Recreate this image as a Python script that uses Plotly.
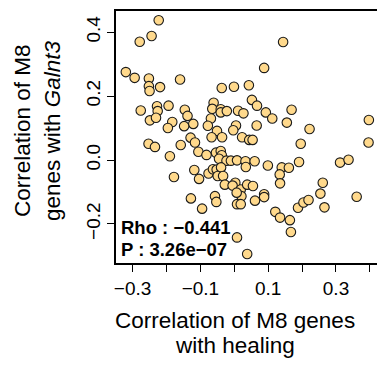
import plotly.graph_objects as go

# Correlation of M8 genes with healing (x) and with Galnt3 (y)
healing_corr = [
    -0.223, -0.279, -0.244, 0.144, -0.320, -0.294, -0.252, -0.252, -0.250, -0.219,
    -0.160, 0.088, -0.037, -0.001, 0.043, -0.276, -0.228, -0.226, -0.194, -0.249,
    -0.231, -0.183, -0.196, -0.146, -0.138, -0.121, -0.148, -0.061, -0.065, -0.040,
    -0.040, -0.022, -0.069, -0.078, 0.011, 0.027, 0.052, 0.067, 0.093, 0.112,
    0.169, 0.155, 0.066, 0.005, -0.003, -0.051, 0.222, 0.397,
    -0.253, -0.234, -0.158, -0.129, -0.116, -0.067, -0.036, 0.023, 0.044, 0.054,
    0.196, 0.396, -0.190, -0.106, -0.082, -0.054, -0.040, -0.037, -0.045, -0.023,
    -0.010, 0.008, 0.033, 0.034, 0.060, 0.099, 0.140, 0.161, 0.191, 0.312,
    0.337, 0.134, 0.135, 0.261, 0.254, 0.361, -0.178, -0.118, -0.104, -0.076,
    -0.063, -0.052, -0.039, -0.049, -0.033, -0.028, 0.003, -0.005, 0.019, 0.038,
    0.055, 0.021, 0.008, 0.019, 0.007, 0.061, 0.088, 0.088, -0.128, -0.057,
    -0.053, -0.095, 0.121, 0.135, 0.164, 0.167, 0.188, 0.204, 0.219, 0.266,
    0.008, 0.038,
]
galnt3_corr = [
    0.437, 0.370, 0.388, 0.369, 0.275, 0.257, 0.255, 0.231, 0.216, 0.228,
    0.252, 0.288, 0.225, 0.229, 0.234, 0.155, 0.168, 0.153, 0.170, 0.124,
    0.132, 0.119, 0.100, 0.157, 0.138, 0.113, 0.106, 0.179, 0.160, 0.159,
    0.149, 0.153, 0.130, 0.107, 0.154, 0.146, 0.188, 0.170, 0.149, 0.130,
    0.157, 0.117, 0.108, 0.108, 0.093, 0.091, 0.097, 0.125,
    0.051, 0.041, 0.047, 0.070, 0.055, 0.071, 0.071, 0.071, 0.063, 0.063,
    0.051, 0.055, 0.012, 0.026, 0.016, 0.023, 0.028, 0.015, 0.004, -0.002,
    -0.002, -0.001, -0.004, -0.022, -0.004, -0.017, -0.023, -0.024, -0.006, -0.008,
    0.001, -0.045, -0.073, -0.071, -0.105, -0.115, -0.053, -0.031, -0.059, -0.042,
    -0.029, -0.030, -0.023, -0.050, -0.050, -0.077, -0.071, -0.080, -0.092, -0.077,
    -0.081, -0.113, -0.138, -0.138, -0.102, -0.127, -0.107, -0.116, -0.120, -0.113,
    -0.131, -0.152, -0.162, -0.180, -0.188, -0.225, -0.149, -0.133, -0.125, -0.148,
    -0.242, -0.294,
]

x_tickvals = [-0.3, -0.2, -0.1, 0.0, 0.1, 0.2, 0.3, 0.4]
x_ticktext = ["\u22120.3", "", "\u22120.1", "", "0.1", "", "0.3", ""]
y_tickvals = [-0.2, 0.0, 0.2, 0.4]
y_ticktext = ["\u22120.2", "0.0", "0.2", "0.4"]

rho_text = "Rho : \u22120.441"
p_text = "P : 3.26e\u221207"

FONT = "Liberation Sans, Arial, Helvetica, sans-serif"

fig = go.Figure()
fig.add_trace(go.Scatter(
    x=healing_corr, y=galnt3_corr, mode="markers",
    marker=dict(size=9.5, color="#FFD98C",
                line=dict(color="#1a1a1a", width=1.1)),
    showlegend=False, hoverinfo="skip",
))

fig.update_layout(
    width=377, height=365,
    margin=dict(l=116, r=0, t=11, b=102),
    paper_bgcolor="white", plot_bgcolor="white",
    font=dict(family=FONT, color="black"),
)
fig.update_xaxes(
    range=[-0.349, 0.421], showgrid=False, zeroline=False,
    showline=True, linecolor="black", linewidth=1.5, mirror=True,
    ticks="outside", ticklen=7, tickwidth=1.2, tickcolor="black",
    tickvals=x_tickvals, ticktext=x_ticktext,
    tickfont=dict(size=19, family=FONT),
)
fig.update_yaxes(
    range=[-0.322, 0.466], showgrid=False, zeroline=False,
    showline=True, linecolor="black", linewidth=1.5, mirror=False,
    ticks="outside", ticklen=7, tickwidth=1.2, tickcolor="black",
    tickvals=y_tickvals, ticktext=y_ticktext, tickangle=-90,
    tickfont=dict(size=19, family=FONT),
)

ann = [
    dict(text="Correlation of M8 genes", x=0.456, y=-0.230),
    dict(text="with healing", x=0.456, y=-0.326),
]
for a in ann:
    fig.add_annotation(text=a["text"], xref="paper", yref="paper",
                       x=a["x"], y=a["y"], xanchor="center", yanchor="middle",
                       showarrow=False, font=dict(size=22.5, family=FONT))

fig.add_annotation(text="Correlation of M8", xref="paper", yref="paper",
                   x=-0.356, y=0.524, xanchor="center", yanchor="middle",
                   textangle=-90, showarrow=False, font=dict(size=22.5, family=FONT))
fig.add_annotation(text="genes with <i>Galnt3</i>", xref="paper", yref="paper",
                   x=-0.241, y=0.524, xanchor="center", yanchor="middle",
                   textangle=-90, showarrow=False, font=dict(size=22.5, family=FONT))

fig.add_annotation(text="<b>" + rho_text + "</b>", xref="paper", yref="paper",
                   x=0.012, y=0.140, xanchor="left", yanchor="middle",
                   showarrow=False, font=dict(size=18.5, family=FONT))
fig.add_annotation(text="<b>" + p_text + "</b>", xref="paper", yref="paper",
                   x=0.012, y=0.054, xanchor="left", yanchor="middle",
                   showarrow=False, font=dict(size=18.5, family=FONT))

fig.write_html(
    "out.html",
    config={"displayModeBar": False},
    post_script="document.body.style.margin='0';document.body.style.padding='0';",
)
